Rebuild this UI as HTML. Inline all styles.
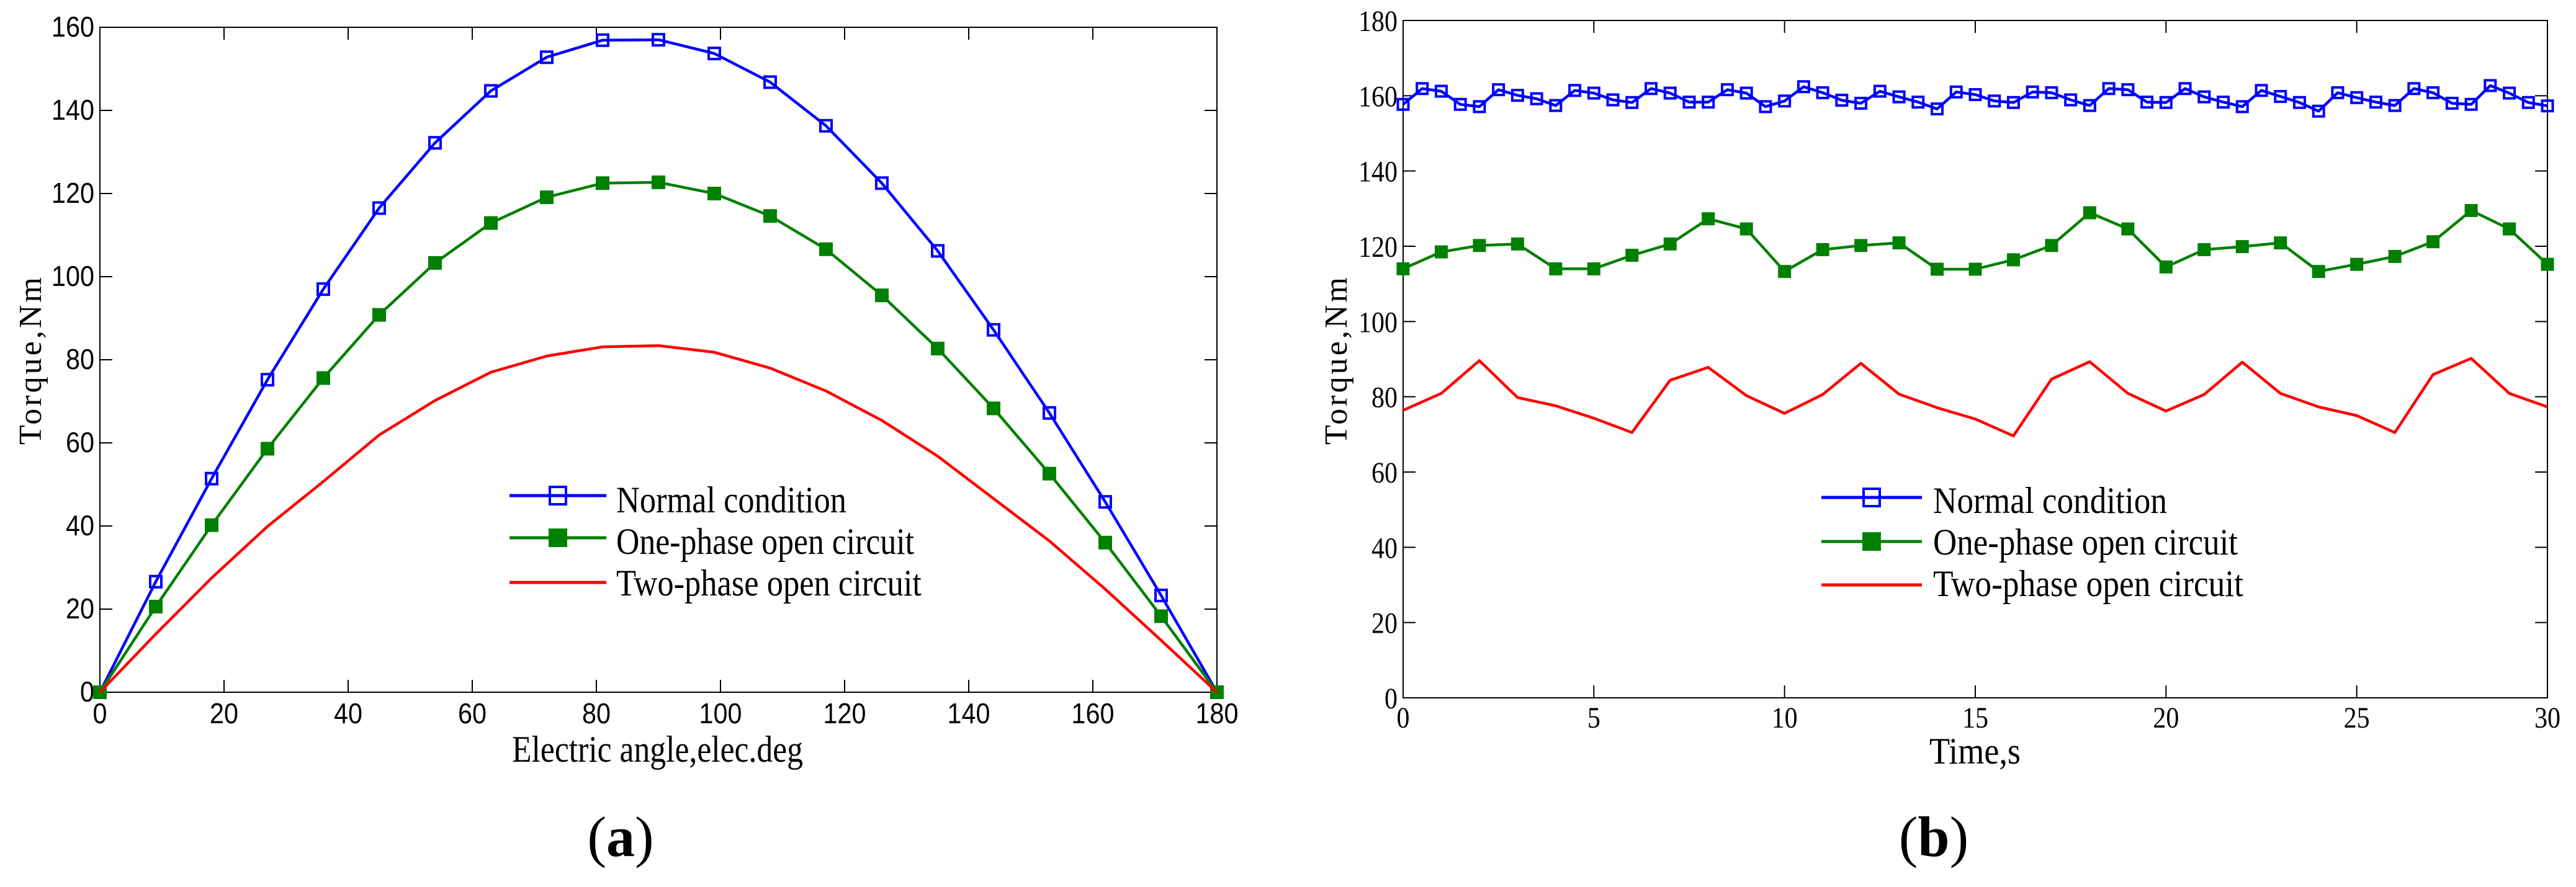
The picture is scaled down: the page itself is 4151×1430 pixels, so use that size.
<!DOCTYPE html>
<html><head><meta charset="utf-8"><style>
html,body{margin:0;padding:0;background:#fff;}
svg{display:block;}
</style></head><body>
<svg id="fig" width="4151" height="1430" viewBox="0 0 4151 1430" xmlns="http://www.w3.org/2000/svg"></svg>
<script>
// ---- Chart (a) data ----
const angleCats = [0,9,18,27,36,45,54,63,72,81,90,99,108,117,126,135,144,153,162,171,180];
const aNormal = [0,26.6,51.4,75.2,97,116.5,132.2,144.7,152.8,156.9,157,153.7,146.8,136.3,122.5,106.2,87.2,67.2,45.8,23.3,0];
const aOne = [0,20.6,40.2,58.6,75.6,90.8,103.3,112.9,119.1,122.5,122.7,120,114.6,106.6,95.5,82.7,68.3,52.6,36,18.3,0];
const aTwo = [0,14,27.5,39.9,50.7,61.9,70.2,77,80.9,83.1,83.4,81.8,78,72.5,65.4,56.8,46.6,36.4,24.8,12.5,0];
const aXTicks = [0,20,40,60,80,100,120,140,160,180];
const aYTicks = [0,20,40,60,80,100,120,140,160];
// ---- Chart (b) data ----
const bNormal = [157.7,161.9,161.2,157.7,157.1,161.6,160.1,159.2,157.4,161.4,160.7,158.9,158.2,161.9,160.7,158.3,158.3,161.6,160.7,157.1,158.6,162.4,160.8,158.8,158,161.2,159.7,158.3,156.5,161,160.3,158.6,158.2,161,160.8,158.9,157.4,161.9,161.6,158.3,158.2,161.9,159.7,158.3,157.1,161.4,159.8,158.2,155.9,160.8,159.5,158.3,157.4,161.9,160.8,158,157.7,162.7,160.7,158.2,157.3];
const bOne = [114,118.5,120.2,120.6,114,114,117.6,120.6,127.3,124.6,113.3,119.1,120.2,120.9,113.9,113.9,116.4,120.2,128.9,124.6,114.5,119.1,119.9,120.9,113.3,115.2,117.3,121.2,129.5,124.6,115.2];
const bTwo = [76.4,80.9,89.6,79.8,77.6,74.3,70.5,84.4,87.8,80.3,75.6,80.6,88.9,80.7,77.1,74.1,69.6,84.7,89.3,80.9,76.2,80.6,89.2,80.9,77.3,75,70.5,85.9,90.2,80.9,77.3];
const bXTicks = [0,5,10,15,20,25,30];
const bYTicks = [0,20,40,60,80,100,120,140,160,180];
const legendLabels = ["Normal condition","One-phase open circuit","Two-phase open circuit"];

const SANS='"Liberation Sans Narrow","Liberation Sans",sans-serif';
const SERIF='"Liberation Serif",serif';
const NS="http://www.w3.org/2000/svg";
const svg=document.getElementById('fig');
function mk(tag,attrs,parent){const e=document.createElementNS(NS,tag);for(const k in attrs)e.setAttribute(k,attrs[k]);(parent||svg).appendChild(e);return e;}
function txt(s,attrs,parent){const e=mk('text',attrs,parent);e.textContent=s;return e;}

function drawChart(cfg){
  const g=mk('g',{});
  
  
  const X=v=>cfg.L+(v-cfg.xmin)/(cfg.xmax-cfg.xmin)*(cfg.R-cfg.L);
  const Y=v=>cfg.B-(v-cfg.ymin)/(cfg.ymax-cfg.ymin)*(cfg.B-cfg.T);
  const frame=mk('rect',{x:cfg.L,y:cfg.T,width:cfg.R-cfg.L,height:cfg.B-cfg.T,fill:'none',stroke:'#000','stroke-width':2},g);
  
  
  cfg.xTicks.forEach((t,i)=>{
    const x=X(t);
    mk('line',{x1:x,x2:x,y1:cfg.B,y2:cfg.B-20,stroke:'#000','stroke-width':2},g);
    mk('line',{x1:x,x2:x,y1:cfg.T,y2:cfg.T+20,stroke:'#000','stroke-width':2},g);
    const l=txt(String(t),{x:x,y:cfg.B+cfg.xTickDy,'text-anchor':'middle','font-size':cfg.tickFs,'font-family':cfg.tickFont,textLength:cfg.digitW*String(t).length,lengthAdjust:'spacingAndGlyphs'},g);
    
    
  });
  cfg.yTicks.forEach(t=>{
    const y=Y(t);
    mk('line',{x1:cfg.L,x2:cfg.L+20,y1:y,y2:y,stroke:'#000','stroke-width':2},g);
    mk('line',{x1:cfg.R,x2:cfg.R-20,y1:y,y2:y,stroke:'#000','stroke-width':2},g);
    const l=txt(String(t),{x:cfg.L-cfg.yTickDx,y:y+cfg.yTickDy,'text-anchor':'end','font-size':cfg.tickFs,'font-family':cfg.tickFont,textLength:cfg.digitW*String(t).length,lengthAdjust:'spacingAndGlyphs'},g);
    
    
  });
  const colors=['#0000ff','#008000','#ff0000'];
  cfg.series.forEach((s,si)=>{
    const pts=s.map((v,i)=>X(cfg.xs[si][i]).toFixed(1)+','+Y(v).toFixed(1)).join(' ');
    const pl=mk('polyline',{points:pts,fill:'none',stroke:colors[si],'stroke-width':4.5,'stroke-linejoin':'round'},g);
    
    
    if(si<2){
      s.forEach((v,i)=>{
        const m=cfg.msize, x=X(cfg.xs[si][i]), y=Y(v);
        const r=mk('rect',si===0?{x:x-m/2+2,y:y-m/2+2,width:m-4,height:m-4,fill:'none',stroke:colors[0],'stroke-width':4}:{x:x-m/2,y:y-m/2,width:m,height:m,fill:colors[1]},g);
        
        
      });
    }
  });
  const lg=mk('g',{},g);
  
  
  legendLabels.forEach((lab,i)=>{
    const ly=cfg.legLineY[i];
    mk('line',{x1:cfg.legX1,x2:cfg.legX2,y1:ly,y2:ly,stroke:colors[i],'stroke-width':5},lg);
    const cx=(cfg.legX1+cfg.legX2)/2;
    if(i===0) mk('rect',{x:cx-13,y:ly-14,width:26,height:28,fill:'none',stroke:colors[0],'stroke-width':4},lg);
    if(i===1) mk('rect',{x:cx-15,y:ly-15,width:30,height:30,fill:colors[1]},lg);
    const t=txt(lab,{x:cfg.legTX,y:cfg.legBase[i],'font-size':60,'font-family':SERIF,textLength:cfg.legW[i],lengthAdjust:'spacingAndGlyphs'},lg);
    
    
  });
  const xl=txt(cfg.xlabel,{x:cfg.xlX,y:cfg.xlY,'font-size':60,'font-family':SERIF,textLength:cfg.xlW,lengthAdjust:'spacingAndGlyphs'},g);
  
  
  const yl=txt('Torque,Nm',{x:0,y:0,'font-size':52,'font-family':SERIF,textLength:270,lengthAdjust:'spacing','text-anchor':'middle',transform:`translate(${cfg.ylX},582) rotate(-90)`},g);
  
  
  const cap=mk('text',{x:cfg.capX,y:1380,'font-size':92,'font-family':SERIF,'text-anchor':'middle'},g);
  
  
  const t1=document.createElementNS(NS,'tspan');t1.textContent='(';cap.appendChild(t1);
  const t2=document.createElementNS(NS,'tspan');t2.setAttribute('font-weight','bold');t2.textContent=cfg.cap;cap.appendChild(t2);
  const t3=document.createElementNS(NS,'tspan');t3.textContent=')';cap.appendChild(t3);
}

const bTimes=bNormal.map((_,i)=>i*0.5);
const bSec=bOne.map((_,i)=>i);
drawChart({name:'chart-a',L:161,R:1961,T:44,B:1116,xmin:0,xmax:180,ymin:0,ymax:160,
  xTicks:aXTicks,yTicks:aYTicks,tickFs:46,tickFont:SANS,digitW:23,xTickDy:50,yTickDx:9,yTickDy:15,
  xs:[angleCats,angleCats,angleCats],series:[aNormal,aOne,aTwo],msize:22,
  legX1:821,legX2:977,legLineY:[799,867,939],legTX:993,legBase:[826,893,960],legW:[371,480,492],
  xlabel:'Electric angle,elec.deg',xlX:825,xlY:1228,xlW:469,ylX:66,capX:1000,cap:'a'});
drawChart({name:'chart-b',L:2261,R:4105,T:33,B:1125,xmin:0,xmax:30,ymin:0,ymax:180,
  xTicks:bXTicks,yTicks:bYTicks,tickFs:48,tickFont:SERIF,digitW:21,xTickDy:48,yTickDx:9,yTickDy:17,
  xs:[bTimes,bSec,bSec],series:[bNormal,bOne,bTwo],msize:21,
  legX1:2935,legX2:3097,legLineY:[802,873,943],legTX:3115,legBase:[827,894,961],legW:[377,491,500],
  xlabel:'Time,s',xlX:3109,xlY:1231,xlW:147,ylX:2170,capX:3116,cap:'b'});
</script>
</body></html>
